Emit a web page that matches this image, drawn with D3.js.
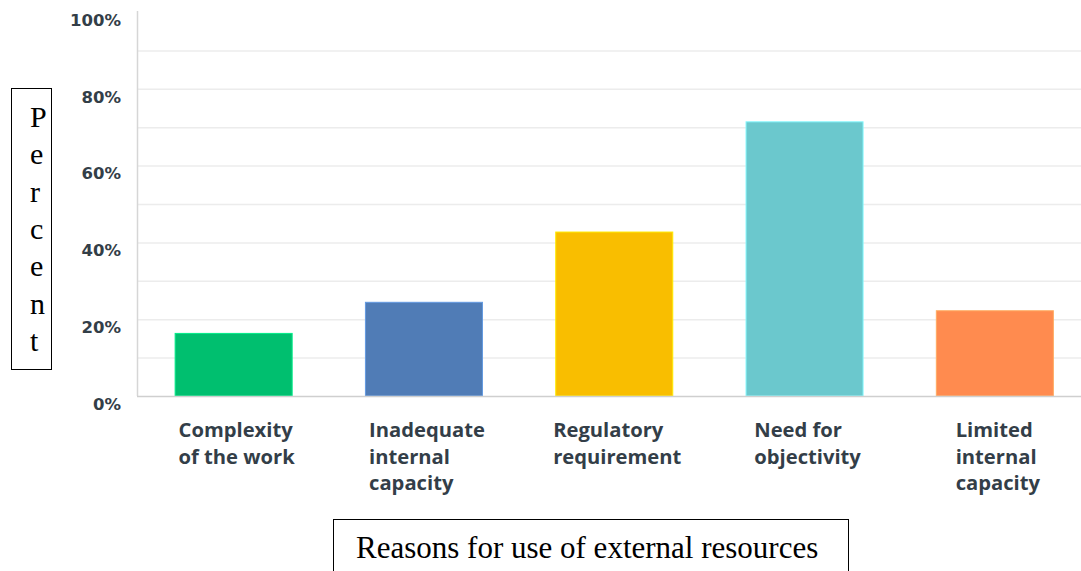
<!DOCTYPE html>
<html>
<head>
<meta charset="utf-8">
<script src="https://cdn.jsdelivr.net/npm/d3@7"></script>
<style>
  html, body { margin: 0; padding: 0; background: #fff; }
  svg { display: block; }
</style>
</head>
<body>
<svg id="chart" width="1081" height="571"></svg>
<script>
// Reasons for use of external resources (percent of respondents)
const categories = [
  ["Complexity", "of the work"],
  ["Inadequate", "internal", "capacity"],
  ["Regulatory", "requirement"],
  ["Need for", "objectivity"],
  ["Limited", "internal", "capacity"]
];
const values = [16.3, 24.4, 42.7, 71.4, 22.2];
const barColors = ["#00bf6f", "#507cb6", "#f9be00", "#6bc8cd", "#ff8b4f"];
const yTicks = [0, 20, 40, 60, 80, 100];
const yGrid = [10, 20, 30, 40, 50, 60, 70, 80, 90];
const yTitle = "Percent";
const xTitle = "Reasons for use of external resources";

const svg = d3.select("#chart");
const W = 1081;

const y = d3.scaleLinear().domain([0, 100]).range([396, 12]);
const x = d3.scaleBand()
  .domain(d3.range(categories.length))
  .range([138.5, 1090])
  .paddingInner(0.385)
  .paddingOuter(0.1925);

const textColor = "#333e48";

// horizontal gridlines
svg.append("g").selectAll("line")
  .data(yGrid).join("line")
  .attr("x1", 137).attr("x2", W)
  .attr("y1", d => y(d) + 0.5).attr("y2", d => y(d) + 0.5)
  .attr("stroke", "#ececec").attr("stroke-width", 1.5);

// vertical axis line
svg.append("line")
  .attr("x1", 137.5).attr("x2", 137.5)
  .attr("y1", y(100) - 1).attr("y2", y(0))
  .attr("stroke", "#d6d6d6").attr("stroke-width", 1.5);

// bars
svg.append("g").selectAll("rect")
  .data(values).join("rect")
  .attr("x", (d, i) => x(i))
  .attr("width", x.bandwidth())
  .attr("y", d => y(d))
  .attr("height", d => y(0) - y(d))
  .attr("fill", (d, i) => barColors[i])
  .attr("stroke", (d, i) => d3.color(barColors[i]).brighter(0.6))
  .attr("stroke-width", 1);

// baseline
svg.append("line")
  .attr("x1", 137).attr("x2", W)
  .attr("y1", y(0) + 0.5).attr("y2", y(0) + 0.5)
  .attr("stroke", "#cfcfcf").attr("stroke-width", 1.5);

// y tick labels
const yAxis = d3.axisLeft(y)
  .tickValues(yTicks)
  .tickFormat(d => d + "%")
  .tickSize(0)
  .tickPadding(0);
const gy = svg.append("g")
  .attr("transform", "translate(121,8)")
  .call(yAxis);
gy.select(".domain").remove();
gy.selectAll("text")
  .attr("font-family", "'DejaVu Sans', sans-serif")
  .attr("font-weight", 700)
  .attr("font-size", 16.5)
  .attr("fill", textColor);

// category labels, left-aligned block centred under each bar
const labels = svg.append("g").selectAll("text")
  .data(categories).join("text")
  .attr("font-family", "'Open Sans', sans-serif")
  .attr("font-weight", 700)
  .attr("font-size", 20.2)
  .attr("fill", textColor);
labels.each(function(lines, i) {
  const t = d3.select(this);
  lines.forEach((ln, j) => {
    t.append("tspan").attr("y", 437 + j * 26.5).text(ln);
  });
  let maxW = 0;
  t.selectAll("tspan").each(function() {
    maxW = Math.max(maxW, this.getComputedTextLength());
  });
  const left = x(i) + x.bandwidth() / 2 - maxW / 2 + 3;
  t.selectAll("tspan").attr("x", left);
});

// y title box
svg.append("rect")
  .attr("x", 11.5).attr("y", 88.5)
  .attr("width", 40).attr("height", 281)
  .attr("fill", "none").attr("stroke", "#000").attr("stroke-width", 1);
svg.append("g").selectAll("text")
  .data(yTitle.split("")).join("text")
  .attr("x", 30)
  .attr("y", (d, i) => 127 + i * 37.3)
  .attr("font-family", "'Liberation Serif', 'Times New Roman', serif")
  .attr("font-size", 30)
  .attr("fill", "#000")
  .text(d => d);

// x title box
svg.append("rect")
  .attr("x", 333.5).attr("y", 519.5)
  .attr("width", 515).attr("height", 60)
  .attr("fill", "none").attr("stroke", "#000").attr("stroke-width", 1);
svg.append("text")
  .attr("x", 356)
  .attr("y", 558)
  .attr("font-family", "'Liberation Serif', 'Times New Roman', serif")
  .attr("font-size", 31)
  .attr("fill", "#000")
  .text(xTitle);
</script>
</body>
</html>
